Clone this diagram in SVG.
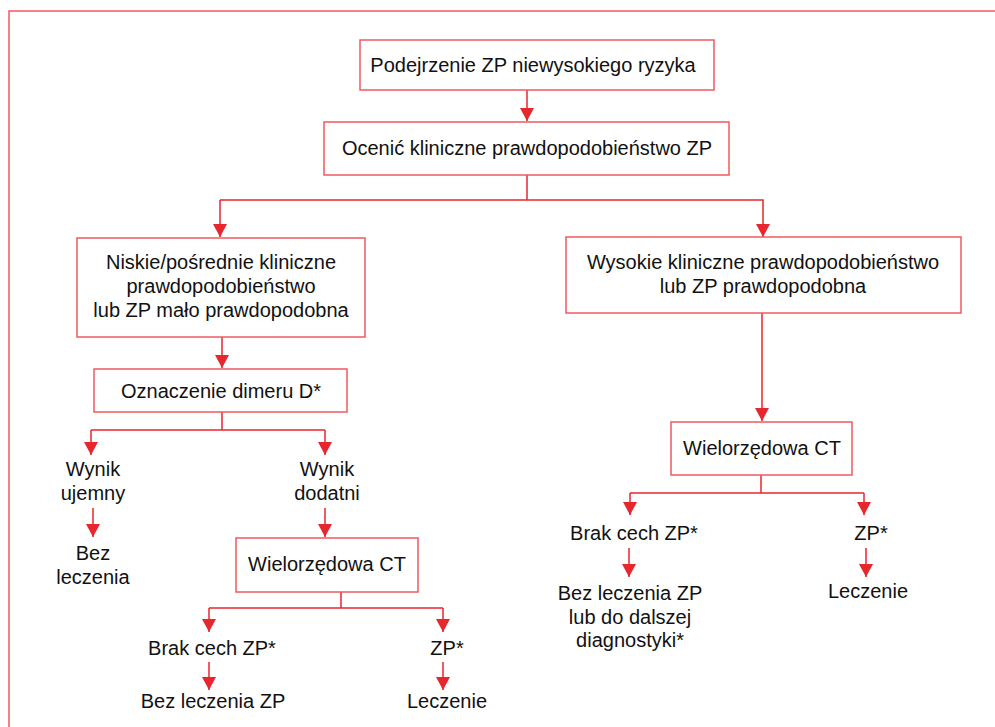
<svg xmlns="http://www.w3.org/2000/svg" width="995" height="727" viewBox="0 0 995 727">
  <style>
    .box { fill: #ffffff; stroke: #ef5a60; stroke-width: 1.5; }
    .frame { fill: none; stroke: #ef5a60; stroke-width: 1.5; }
    .link { fill: none; stroke: #e8262d; stroke-width: 1.5; }
    .lbl { font-family: "Liberation Sans", Arial, sans-serif; font-size: 20px; fill: #111111; text-anchor: middle; dominant-baseline: central; }
  </style>
  <defs>
    <marker id="arrow" viewBox="0 0 13 14" refX="13" refY="7" markerWidth="13" markerHeight="14" markerUnits="userSpaceOnUse" orient="auto">
      <path d="M0,0 L13,7 L0,14 z" fill="#e8262d"/>
    </marker>
  </defs>

  <rect width="995" height="727" fill="#ffffff"/>
  <!-- outer frame -->
  <path class="frame" d="M9,727 L9,11 L995,11"/>

  <!-- connectors -->
  <g id="connectors">
    <line class="link" x1="527" y1="90" x2="527" y2="121" marker-end="url(#arrow)"/>
    <path class="link" d="M527,175 V200"/>
    <path class="link" d="M220,200 H763 V237" marker-end="url(#arrow)"/>
    <path class="link" d="M220,200 V237" marker-end="url(#arrow)"/>
    <line class="link" x1="222" y1="337" x2="222" y2="368" marker-end="url(#arrow)"/>
    <path class="link" d="M222,412 V430"/>
    <path class="link" d="M91,430 H325"/>
    <path class="link" d="M91,430 V455" marker-end="url(#arrow)"/>
    <path class="link" d="M325,430 V455" marker-end="url(#arrow)"/>
    <line class="link" x1="93" y1="508" x2="93" y2="537" marker-end="url(#arrow)"/>
    <line class="link" x1="325" y1="508" x2="325" y2="537" marker-end="url(#arrow)"/>
    <path class="link" d="M341,592 V608"/>
    <path class="link" d="M209,608 H443"/>
    <path class="link" d="M209,608 V632" marker-end="url(#arrow)"/>
    <path class="link" d="M443,608 V632" marker-end="url(#arrow)"/>
    <line class="link" x1="209" y1="662" x2="209" y2="690" marker-end="url(#arrow)"/>
    <line class="link" x1="443" y1="662" x2="443" y2="690" marker-end="url(#arrow)"/>
    <line class="link" x1="762" y1="313" x2="762" y2="421" marker-end="url(#arrow)"/>
    <path class="link" d="M761,475 V493"/>
    <path class="link" d="M630,493 H864"/>
    <path class="link" d="M630,493 V515" marker-end="url(#arrow)"/>
    <path class="link" d="M864,493 V515" marker-end="url(#arrow)"/>
    <line class="link" x1="629" y1="548" x2="629" y2="577" marker-end="url(#arrow)"/>
    <line class="link" x1="866" y1="548" x2="866" y2="577" marker-end="url(#arrow)"/>
  </g>

  <!-- nodes -->
  <g id="suspicion">
    <rect class="box" x="360" y="40" width="354" height="50"/>
    <text class="lbl" x="533" y="65">Podejrzenie ZP niewysokiego ryzyka</text>
  </g>
  <g id="assess">
    <rect class="box" x="324" y="122" width="405" height="53"/>
    <text class="lbl" x="527" y="148">Ocenić kliniczne prawdopodobieństwo ZP</text>
  </g>
  <g id="low-prob">
    <rect class="box" x="77" y="238" width="288" height="99"/>
    <text class="lbl" x="221" y="262">Niskie/pośrednie kliniczne</text>
    <text class="lbl" x="221" y="286">prawdopodobieństwo</text>
    <text class="lbl" x="221" y="310">lub ZP mało prawdopodobna</text>
  </g>
  <g id="ddimer">
    <rect class="box" x="94" y="369" width="253" height="43"/>
    <text class="lbl" x="221" y="391">Oznaczenie dimeru D*</text>
  </g>
  <g id="negative">
    <text class="lbl" x="93" y="469">Wynik</text>
    <text class="lbl" x="93" y="493">ujemny</text>
  </g>
  <g id="no-treat-1">
    <text class="lbl" x="93" y="553">Bez</text>
    <text class="lbl" x="93" y="577">leczenia</text>
  </g>
  <g id="positive">
    <text class="lbl" x="327" y="469">Wynik</text>
    <text class="lbl" x="327" y="493">dodatni</text>
  </g>
  <g id="ct-left">
    <rect class="box" x="236" y="538" width="182" height="54"/>
    <text class="lbl" x="327" y="564">Wielorzędowa CT</text>
  </g>
  <g id="no-pe-left">
    <text class="lbl" x="212" y="648">Brak cech ZP*</text>
  </g>
  <g id="pe-left">
    <text class="lbl" x="447" y="648">ZP*</text>
  </g>
  <g id="no-treat-2">
    <text class="lbl" x="213" y="701">Bez leczenia ZP</text>
  </g>
  <g id="treat-left">
    <text class="lbl" x="447" y="701">Leczenie</text>
  </g>
  <g id="high-prob">
    <rect class="box" x="566" y="237" width="395" height="76"/>
    <text class="lbl" x="763" y="262">Wysokie kliniczne prawdopodobieństwo</text>
    <text class="lbl" x="763" y="286">lub ZP prawdopodobna</text>
  </g>
  <g id="ct-right">
    <rect class="box" x="671" y="422" width="181" height="53"/>
    <text class="lbl" x="762" y="448">Wielorzędowa CT</text>
  </g>
  <g id="no-pe-right">
    <text class="lbl" x="634" y="533">Brak cech ZP*</text>
  </g>
  <g id="pe-right">
    <text class="lbl" x="871" y="533">ZP*</text>
  </g>
  <g id="further">
    <text class="lbl" x="630" y="593">Bez leczenia ZP</text>
    <text class="lbl" x="630" y="617">lub do dalszej</text>
    <text class="lbl" x="630" y="640">diagnostyki*</text>
  </g>
  <g id="treat-right">
    <text class="lbl" x="868" y="591">Leczenie</text>
  </g>
</svg>
